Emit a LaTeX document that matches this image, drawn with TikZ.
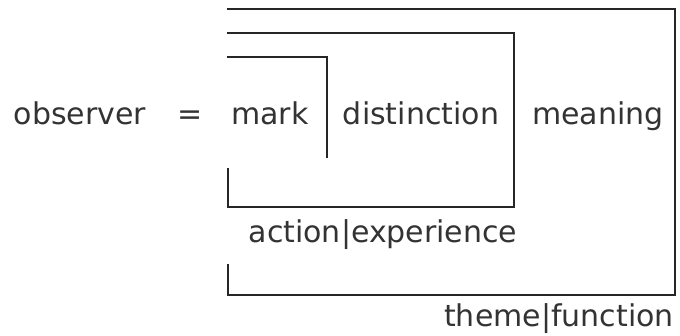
\documentclass[tikz,border=0pt]{standalone}
\usepackage{fontspec}
\setmainfont{DejaVu Sans}
\begin{document}
\begin{tikzpicture}[x=1pt,y=-1pt,
  lbl/.style={anchor=base,inner sep=0pt,font=\fontsize{30}{36}\selectfont,text=black!80},
  frame/.style={draw=black!85,line width=2pt,line cap=rect}]
\useasboundingbox (0,0) rectangle (680,336);
% labels
\node[lbl] (obs) at (80,125) {observer};
\node[lbl] (eq) at (190,125) {=};
\node[lbl] (mark) at (270,125) {mark};
\node[lbl] (dist) at (421,125) {distinction};
\node[lbl] (mean) at (598,125) {meaning};
\node[lbl] (ae) at (383,243) {action|experience};
\node[lbl] (tf) at (559,327) {theme|function};
% innermost bracket around mark
\coordinate (a1) at (228,57);
\coordinate (a2) at (327,57);
\coordinate (a3) at (327,157);
\draw[frame] (a1) -- (a2) -- (a3);
% middle frame
\coordinate (b1) at (228,33);
\coordinate (b2) at (514,33);
\coordinate (b3) at (514,207);
\coordinate (b4) at (228,207);
\coordinate (b5) at (228,169);
\draw[frame] (b1) -- (b2) -- (b3) -- (b4) -- (b5);
% outer frame
\coordinate (c1) at (228,9);
\coordinate (c2) at (675,9);
\coordinate (c3) at (675,295);
\coordinate (c4) at (228,295);
\coordinate (c5) at (228,265);
\draw[frame] (c1) -- (c2) -- (c3) -- (c4) -- (c5);
\end{tikzpicture}
\end{document}
